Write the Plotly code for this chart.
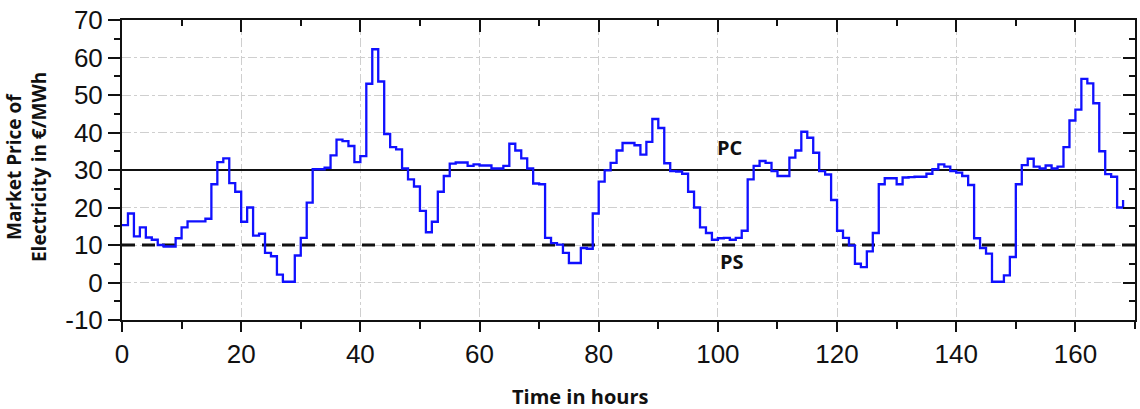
import plotly.graph_objects as go

# Hourly market price over one week (value holds from hour h to h+1)
hours = list(range(0, 169))
price = [
    15.3, 18.4, 12.3, 14.7, 12.0, 11.4, 10.0, 9.6, 9.6, 11.8,
    14.7, 16.3, 16.3, 16.3, 17.0, 26.2, 32.1, 33.1, 26.5, 24.2,
    16.2, 20.0, 12.5, 13.0, 7.9, 7.0, 2.1, 0.2, 0.2, 7.2,
    11.9, 21.3, 30.2, 30.2, 30.6, 33.9, 38.1, 37.7, 36.4, 32.1,
    33.7, 53.0, 62.2, 53.6, 39.6, 36.1, 35.5, 30.4, 27.5, 25.6,
    19.1, 13.4, 16.2, 24.2, 28.4, 31.7, 32.0, 32.0, 31.1, 31.5,
    31.2, 31.2, 30.4, 30.4, 31.1, 37.0, 35.2, 33.1, 30.4, 26.4,
    26.2, 11.9, 10.5, 10.1, 7.9, 5.2, 5.2, 9.2, 9.0, 18.4,
    26.9, 29.9, 31.9, 35.2, 37.2, 37.2, 36.6, 34.1, 37.5, 43.6,
    41.2, 31.8, 29.7, 29.6, 29.0, 24.2, 20.0, 14.7, 13.2, 11.4,
    11.8, 11.9, 11.4, 11.9, 13.8, 27.5, 31.1, 32.4, 31.9, 29.7,
    28.4, 28.4, 33.3, 35.2, 40.2, 38.6, 34.6, 29.7, 28.8, 22.0,
    13.8, 11.9, 9.9, 5.0, 4.1, 8.3, 13.2, 26.2, 27.8, 27.8,
    26.2, 28.0, 28.1, 28.2, 28.2, 29.0, 30.2, 31.5, 30.9, 29.7,
    29.3, 28.4, 26.0, 11.8, 9.2, 7.7, 0.2, 0.2, 1.9, 6.8,
    26.2, 31.3, 33.0, 30.9, 30.4, 31.2, 30.4, 30.9, 36.1, 43.2,
    46.1, 54.3, 53.1, 47.8, 35.0, 28.9, 28.2, 20.0, 22.0,
]

# Threshold prices
pc_level = 30
ps_level = 10
x_range = [0, 170]
y_range = [-10, 70]

# Axis tick labels
x_tick_vals = [0, 20, 40, 60, 80, 100, 120, 140, 160]
x_tick_text = ["0", "20", "40", "60", "80", "100", "120", "140", "160"]
y_tick_vals = [-10, 0, 10, 20, 30, 40, 50, 60, 70]
y_tick_text = ["-10", "0", "10", "20", "30", "40", "50", "60", "70"]

tick_font = dict(family="Liberation Sans, Arial, sans-serif", size=26, color="#111111")
title_font = dict(family="Open Sans, sans-serif", size=20, color="#111111")
ytitle_font = dict(family="Open Sans, sans-serif", size=19, color="#111111")

fig = go.Figure()

fig.add_trace(go.Scatter(
    x=x_range, y=[pc_level, pc_level], mode="lines",
    line=dict(color="#111111", width=2), hoverinfo="skip", showlegend=False,
))
fig.add_trace(go.Scatter(
    x=x_range, y=[ps_level, ps_level], mode="lines",
    line=dict(color="#111111", width=3, dash="13px,7px"), hoverinfo="skip", showlegend=False,
))
fig.add_trace(go.Scatter(
    x=hours, y=price, mode="lines", line=dict(color="#1010ff", width=2.3, shape="hv"),
    showlegend=False,
))
# empty trace to carry the mirrored top/right axes
fig.add_trace(go.Scatter(x=[], y=[], xaxis="x2", yaxis="y2", showlegend=False))

fig.add_annotation(x=102.0, y=35.9, text="<b>PC</b>", showarrow=False, font=title_font)
fig.add_annotation(x=102.3, y=5.6, text="<b>PS</b>", showarrow=False, font=title_font)

plot_w = 1013
plot_h = 302
fig.add_annotation(xref="paper", yref="paper", x=(14 - 122) / plot_w, y=(320 - 166) / plot_h,
                   text="<b>Market Price of</b>", textangle=-90, showarrow=False,
                   xanchor="center", yanchor="middle", font=ytitle_font, borderpad=0)
fig.add_annotation(xref="paper", yref="paper", x=(39 - 122) / plot_w, y=(320 - 166) / plot_h,
                   text="<b>Electricity in €/MWh</b>", textangle=-90, showarrow=False,
                   xanchor="center", yanchor="middle", font=ytitle_font, borderpad=0)
fig.add_annotation(xref="paper", yref="paper", x=(580 - 122) / plot_w, y=-(397 - 320) / plot_h,
                   text="<b>Time in hours</b>", showarrow=False,
                   xanchor="center", yanchor="middle", font=title_font)

grid = dict(showgrid=True, gridcolor="#cfcfcf", gridwidth=1, griddash="dashdot")

fig.update_layout(
    width=1140, height=409,
    margin=dict(l=122, r=5, t=18, b=89),
    paper_bgcolor="white", plot_bgcolor="white",
    xaxis=dict(
        range=x_range, tickmode="array", tickvals=x_tick_vals, ticktext=x_tick_text,
        ticks="outside", ticklen=10, tickwidth=2,
        tickcolor="#111111", showline=True, linecolor="#111111", linewidth=2,
        tickfont=tick_font, zeroline=False,
        minor=dict(dtick=10, ticks="outside", ticklen=7, tickwidth=2, tickcolor="#111111", showgrid=False),
        **grid,
    ),
    xaxis2=dict(
        range=x_range, overlaying="x", side="top", dtick=20, tick0=0, ticks="inside",
        ticklen=12, tickwidth=2, tickcolor="#111111", showline=True, linecolor="#111111",
        linewidth=2, showticklabels=False, showgrid=False, zeroline=False,
        minor=dict(dtick=10, ticks="inside", ticklen=6, tickwidth=2, tickcolor="#111111"),
    ),
    yaxis=dict(
        range=y_range, tickmode="array", tickvals=y_tick_vals, ticktext=y_tick_text,
        ticks="outside", ticklen=12, tickwidth=2,
        tickcolor="#111111", showline=True, linecolor="#111111", linewidth=2,
        tickfont=tick_font, zeroline=False,
        minor=dict(dtick=5, ticks="outside", ticklen=6, tickwidth=2, tickcolor="#111111", showgrid=False),
        **grid,
    ),
    yaxis2=dict(
        range=y_range, overlaying="y", side="right", dtick=10, tick0=0, ticks="inside",
        ticklen=12, tickwidth=2, tickcolor="#111111", showline=True, linecolor="#111111",
        linewidth=2, showticklabels=False, showgrid=False, zeroline=False,
        minor=dict(dtick=5, ticks="inside", ticklen=6, tickwidth=2, tickcolor="#111111"),
    ),
)

fig.write_html("out.html")
